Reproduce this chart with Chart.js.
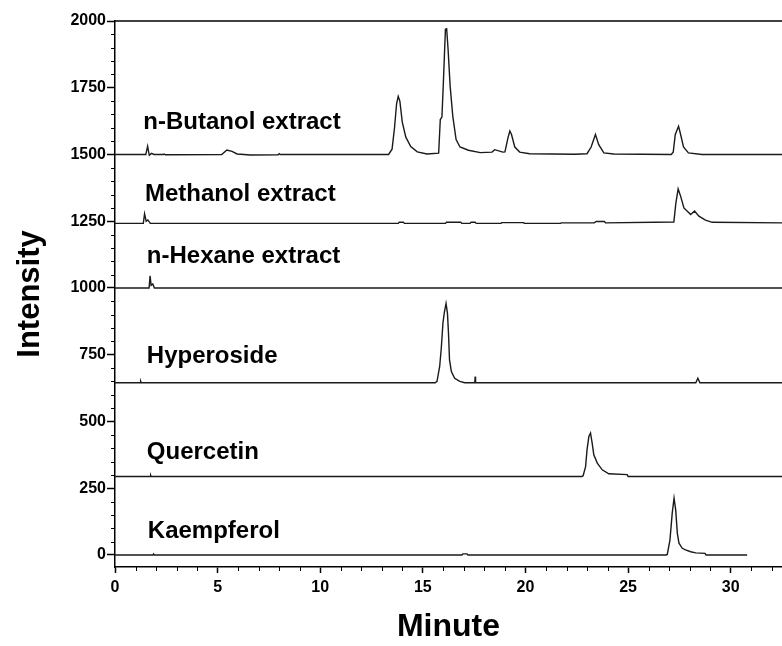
<!DOCTYPE html>
<html>
<head>
<meta charset="utf-8">
<script src="https://cdn.jsdelivr.net/npm/chart.js@4.4.1/dist/chart.umd.min.js"></script>
<style>
  body { margin: 0; background: #fff; }
  canvas { display: block; }
</style>
</head>
<body>
<canvas id="myChart" width="782" height="646"></canvas>
<script>
// [minute, intensity]
const butanol = [
  [0, 1500], [1.5, 1500], [1.59, 1531], [1.67, 1497], [1.78, 1504], [1.9, 1500],
  [2.35, 1500], [2.4, 1502], [2.45, 1499], [5.2, 1500], [5.45, 1517], [5.7, 1512],
  [5.95, 1502], [6.6, 1498], [7.95, 1499], [8.0, 1503], [8.05, 1500],
  [13.33, 1500], [13.5, 1520], [13.62, 1600], [13.72, 1690], [13.8, 1718], [13.88, 1700],
  [14.0, 1620], [14.17, 1565], [14.41, 1530], [14.73, 1510], [15.2, 1502], [15.77, 1505],
  [15.85, 1631], [15.93, 1640], [16.0, 1769], [16.1, 1969], [16.16, 1971], [16.23, 1893],
  [16.33, 1756], [16.46, 1643], [16.62, 1556], [16.81, 1528], [17.22, 1516], [17.8, 1507],
  [18.37, 1509], [18.5, 1518], [18.9, 1509], [19.0, 1510], [19.15, 1563], [19.24, 1588],
  [19.32, 1575], [19.48, 1528], [19.72, 1509], [20.2, 1503], [22.4, 1501], [23.0, 1503],
  [23.2, 1528], [23.41, 1575], [23.57, 1537], [23.82, 1506], [24.3, 1502], [27.1, 1500],
  [27.2, 1509], [27.3, 1575], [27.46, 1606], [27.56, 1575], [27.7, 1528], [27.94, 1506],
  [28.6, 1500], [32.5, 1500]
];
const methanol = [
  [0, 1242], [1.38, 1242], [1.44, 1278], [1.52, 1250], [1.6, 1255], [1.72, 1242],
  [13.8, 1242], [13.85, 1246], [14.05, 1246], [14.1, 1242], [16.1, 1242], [16.15, 1246],
  [16.85, 1246], [16.9, 1242], [17.3, 1242], [17.35, 1246], [17.55, 1246], [17.6, 1242],
  [18.8, 1242], [18.85, 1245], [19.9, 1245], [19.95, 1242], [21.7, 1242], [21.75, 1244],
  [23.35, 1244], [23.45, 1249], [23.85, 1249], [23.9, 1244], [27.23, 1247], [27.33, 1319],
  [27.44, 1371], [27.56, 1344], [27.72, 1300], [28.05, 1275], [28.24, 1288], [28.45, 1269],
  [28.77, 1254], [29.1, 1246], [32.5, 1244]
];
const hexane = [
  [0, 1000], [1.66, 1000], [1.71, 1046], [1.76, 1010], [1.84, 1015], [1.92, 1000], [32.5, 1000]
];
const hyperoside = [
  [0, 645], [1.22, 645], [1.25, 651], [1.28, 645], [15.6, 645], [15.69, 650], [15.82, 706],
  [15.9, 776], [15.98, 870], [16.05, 910], [16.13, 942], [16.2, 905], [16.25, 830],
  [16.3, 731], [16.39, 687], [16.55, 662], [16.8, 650], [17.04, 645], [17.53, 645],
  [17.55, 668], [17.57, 645], [28.3, 645], [28.4, 662], [28.5, 645], [32.5, 645]
];
const quercetin = [
  [0, 294], [1.72, 294], [1.74, 298], [1.76, 294], [22.75, 294], [22.81, 297],
  [22.93, 331], [23.0, 394], [23.09, 444], [23.17, 457], [23.25, 419], [23.33, 375],
  [23.5, 344], [23.74, 319], [24.06, 304], [24.96, 301], [25.0, 294], [32.5, 294]
];
const kaempferol = [
  [0, 0], [1.85, 0], [1.88, 4], [1.91, 0], [16.9, 0], [16.95, 4], [17.15, 4], [17.2, 0],
  [26.85, 0], [26.91, 2], [27.04, 56], [27.15, 156], [27.24, 213], [27.32, 169], [27.4, 81],
  [27.48, 44], [27.64, 25], [27.8, 19], [28.05, 12], [28.3, 8], [28.75, 6], [28.8, 0], [30.8, 0]
];

const traceNames = ['n-Butanol extract', 'Methanol extract', 'n-Hexane extract', 'Hyperoside', 'Quercetin', 'Kaempferol'];
const traces = [butanol, methanol, hexane, hyperoside, quercetin, kaempferol];

const xTicks = [0, 5, 10, 15, 20, 25, 30];
const yTicks = [0, 250, 500, 750, 1000, 1250, 1500, 1750, 2000];

// where the trace names sit (minute, intensity of text baseline)
const namePos = [[1.38, 1594], [1.46, 1325], [1.55, 1094], [1.55, 719], [1.55, 360], [1.6, 63]];

const FONT = "'Liberation Sans', Arial, sans-serif";

const decorPlugin = {
  id: 'decor',
  afterDraw(chart) {
    const ctx = chart.ctx;
    const xs = chart.scales.x, ys = chart.scales.y;
    const area = chart.chartArea;
    ctx.save();
    ctx.strokeStyle = '#000';
    ctx.lineWidth = 1.5;
    // top frame line
    ctx.beginPath();
    ctx.moveTo(area.left, area.top);
    ctx.lineTo(area.right, area.top);
    ctx.stroke();
    // minor ticks
    ctx.lineWidth = 1;
    ctx.beginPath();
    for (let v = 50; v < 2000; v += 50) {
      if (v % 250 === 0) continue;
      const py = Math.round(ys.getPixelForValue(v)) + 0.5;
      ctx.moveTo(area.left - 4, py);
      ctx.lineTo(area.left, py);
    }
    for (let m = 1; m <= 32; m++) {
      if (m % 5 === 0) continue;
      const px = Math.round(xs.getPixelForValue(m)) + 0.5;
      ctx.moveTo(px, area.bottom);
      ctx.lineTo(px, area.bottom + 4);
    }
    ctx.stroke();
    // trace names
    ctx.fillStyle = '#000';
    ctx.font = 'bold 24px ' + FONT;
    ctx.textAlign = 'left';
    ctx.textBaseline = 'alphabetic';
    traceNames.forEach((name, i) => {
      ctx.fillText(name, xs.getPixelForValue(namePos[i][0]), ys.getPixelForValue(namePos[i][1]));
    });
    ctx.restore();
  }
};

function chromatogram () {
  var ctx = document.getElementById('myChart').getContext('2d');

  const data = {
    datasets: traces.map((t, i) => ({
      label: traceNames[i],
      data: t.map(p => ({ x: p[0], y: p[1] })),
      borderColor: '#1a1a1a',
      borderWidth: 1.4,
      pointRadius: 0,
      tension: 0,
      fill: false
    }))
  };

  new Chart(ctx, {
    type: 'line',
    data: data,
    plugins: [decorPlugin],
    options: {
      responsive: false,
      animation: false,
      layout: { padding: { top: 21, right: 0, left: 0, bottom: 0 } },
      plugins: { legend: { display: false }, tooltip: { enabled: false } },
      scales: {
        x: {
          type: 'linear',
          min: 0,
          max: 32.5,
          afterBuildTicks: a => { a.ticks = xTicks.map(v => ({ value: v })); },
          afterFit: s => { s.height = 79; },
          grid: { drawOnChartArea: false, tickLength: 6, tickColor: '#000', tickWidth: 1.5 },
          border: { color: '#000', width: 1.5 },
          ticks: { color: '#000', font: { family: FONT, size: 16, weight: 'bold' }, padding: 5, maxRotation: 0, callback: v => String(v) },
          title: { display: true, text: 'Minute', color: '#000', font: { family: FONT, size: 32, weight: 'bold' }, padding: { top: 0, bottom: 0 } }
        },
        y: {
          min: -45,
          max: 2000,
          afterBuildTicks: a => { a.ticks = yTicks.map(v => ({ value: v })); },
          afterFit: s => { s.width = 115; },
          grid: { drawOnChartArea: false, tickLength: 8, tickColor: '#000', tickWidth: 1.5 },
          border: { color: '#000', width: 1.5 },
          ticks: { color: '#000', font: { family: FONT, size: 16, weight: 'bold' }, padding: 1, callback: v => String(v) },
          title: { display: true, text: 'Intensity', color: '#000', font: { family: FONT, size: 31, weight: 'bold' }, padding: { top: 12, bottom: 0 } }
        }
      }
    }
  });
}

chromatogram();
</script>
</body>
</html>
